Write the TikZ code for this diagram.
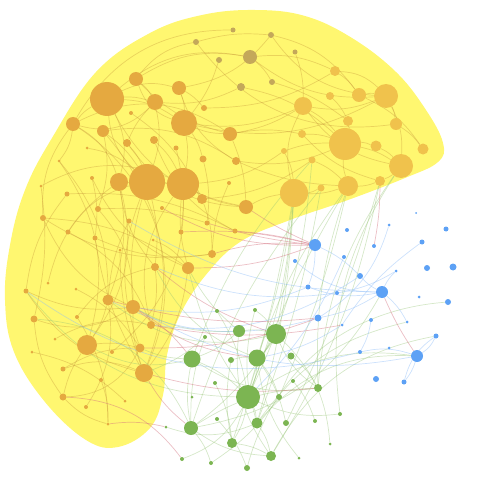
\documentclass[tikz,border=0pt]{standalone}
\usetikzlibrary{backgrounds}
\definecolor{blobyellow}{RGB}{255,247,112}
\definecolor{deeporange}{RGB}{229,169,64}
\definecolor{lightorange}{RGB}{240,194,76}
\definecolor{olivenode}{RGB}{196,168,90}
\definecolor{greennode}{RGB}{124,181,82}
\definecolor{bluenode}{RGB}{93,161,245}
\definecolor{pinkedge}{RGB}{212,112,127}
\tikzset{
  vertex/.style={circle, inner sep=0pt},
  onode/.style={vertex, fill=deeporange},
  ynode/.style={vertex, fill=lightorange},
  vnode/.style={vertex, fill=olivenode},
  gnode/.style={vertex, fill=greennode},
  bnode/.style={vertex, fill=bluenode},
  oedge/.style={draw=deeporange!85!black, opacity=0.35, line width=0.7pt},
  gedge/.style={draw=greennode!80, opacity=0.4, line width=0.7pt},
  bedge/.style={draw=bluenode!70, opacity=0.45, line width=0.7pt},
  pedge/.style={draw=pinkedge, opacity=0.45, line width=0.7pt}
}
\begin{document}
\begin{tikzpicture}[x=1pt, y=-1pt]
  \useasboundingbox (0,0) rectangle (500,500);
  % nodes: name/x/y/radius
  \foreach \n/\x/\y/\r in {1/107/99/17, 2/136/79/7, 3/179/88/7, 4/155/102/8,
      5/184/123/13, 6/73/124/7, 7/103/131/6, 8/131/113/2, 9/204/108/3,
      10/230/134/7, 11/127/143/4, 12/154/140/4, 13/176/148/2.5, 14/87/148/1.5,
      15/59/161/1.5, 16/203/159/3.5, 17/236/161/4, 18/119/182/9, 19/147/182/18,
      20/183/184/16, 21/229/183/2, 22/202/199/5, 23/246/207/7, 24/92/178/2,
      25/67/194/2.5, 26/41/186/1.5, 27/98/209/3, 28/162/208/2, 29/43/218/3,
      30/129/221/2.5, 31/207/223/2.5, 32/68/232/2.5, 33/95/238/2.5, 34/153/240/1.5,
      35/181/232/2.5, 36/235/231/2.5, 37/155/267/4, 38/188/268/6, 39/212/254/4,
      40/120/250/1.5, 41/26/291/2.5, 42/48/283/1.5, 43/76/289/1.5, 44/108/300/5.5,
      45/133/307/7, 46/34/319/3.5, 47/77/317/2, 48/151/325/4, 49/55/339/1.5,
      50/87/345/10, 51/112/352/2, 52/140/348/4.5, 53/32/352/1.5, 54/63/369/2.5,
      55/144/373/9, 56/101/380/2, 57/63/397/3.5, 58/86/407/2, 59/125/401/1.5,
      60/108/424/1.5}
    \node[onode, minimum size=2*\r] (o\n) at (\x,\y) {};
  \foreach \n/\x/\y/\r in {1/196/42/3, 2/233/30/2.5, 3/219/60/3, 4/250/57/7,
      5/241/87/4, 6/271/35/3, 7/295/52/2.5, 8/272/82/3}
    \node[vnode, minimum size=2*\r] (v\n) at (\x,\y) {};
  \foreach \n/\x/\y/\r in {1/335/71/5, 2/303/106/9, 3/330/96/4, 4/359/95/7,
      5/386/96/12, 6/348/121/5, 7/396/124/6, 8/302/134/4, 9/345/144/16,
      10/376/146/5.5, 11/423/149/5.5, 12/284/151/3, 13/312/160/3.5, 14/401/166/12,
      15/380/181/5, 16/348/186/10, 17/321/188/3.5, 18/294/193/14}
    \node[ynode, minimum size=2*\r] (y\n) at (\x,\y) {};
  \foreach \n/\x/\y/\r in {1/217/311/2, 2/239/331/6, 3/205/337/2, 4/192/359/8.5,
      5/231/360/3, 6/215/383/2, 7/192/397/1.5, 8/248/397/12, 9/217/419/2,
      10/191/428/7, 11/232/443/5, 12/166/427/1.5, 13/182/459/2, 14/211/463/2,
      15/247/468/3, 16/276/334/10, 17/257/358/8.5, 18/291/356/3.5, 19/255/310/2,
      20/293/381/2, 21/318/388/4, 22/279/397/3, 23/257/423/5.5, 24/286/423/3,
      25/315/421/2, 26/340/414/2, 27/330/444/1.5, 28/271/456/5, 29/299/458/1.5}
    \node[gnode, minimum size=2*\r] (g\n) at (\x,\y) {};
  \foreach \n/\x/\y/\r in {1/315/245/6, 2/347/230/2, 3/389/225/1.5, 4/416/213/1,
      5/446/229/2.5, 6/422/242/2.5, 7/374/246/2, 8/295/261/2, 9/344/257/2,
      10/360/276/3, 11/396/271/1.5, 12/427/268/3, 13/453/267/3.5, 14/308/287/2.5,
      15/337/293/2, 16/382/292/6, 17/419/297/1.5, 18/448/302/3, 19/318/318/3.5,
      20/371/320/2, 21/342/325/1.5, 22/407/322/1.5, 23/436/336/2.5, 24/360/352/2,
      25/389/348/1.5, 26/417/356/6, 27/376/379/3, 28/404/382/2.5}
    \node[bnode, minimum size=2*\r] (b\n) at (\x,\y) {};
  \begin{pgfonlayer}{background}
    % community hull
    \fill[blobyellow] plot[smooth cycle, tension=0.65] coordinates {
      (255,10) (305,16) (352,38) (396,72) (426,110) (443,143) (438,162)
      (405,178) (348,200) (290,220) (240,242) (205,276) (180,315) (167,355)
      (163,395) (150,428) (118,447) (86,440) (45,402) (14,352) (5,300)
      (10,245) (25,190) (52,138) (96,72) (150,33) (202,15)};
    % edges
    \foreach \a/\b/\c in {o1/o4/10, o1/o6/-10, o1/o18/20, o1/o5/15, o1/o19/-20,
        o2/o4/10, o2/v1/20, o2/o10/-15, o3/o5/10, o3/o9/10, o4/o19/15, o4/o11/-10,
        o5/o20/10, o5/o10/-10, o5/o16/10, o6/o18/20, o6/o15/15, o6/o29/-20,
        o7/o19/10, o7/o27/15, o10/o23/10, o10/y2/-10, o11/o19/10, o12/o20/10,
        o18/o19/0, o19/o20/0, o18/o44/15, o18/o37/-15, o19/o37/10, o19/o45/-10,
        o20/o22/10, o20/o38/-10, o20/o23/-10, o22/o39/10, o24/o33/10, o25/o41/-15,
        o26/o46/10, o27/o45/20, o30/o44/-10, o37/o48/10, o38/o55/15, o44/o50/10,
        o45/o55/-10, o46/o57/-15, o50/o52/10, o50/o57/-10, o41/o55/-20, o15/o50/25,
        o32/o48/20, o29/o38/15, o33/o55/-10, o47/o60/15, o57/o60/-15, o52/o54/-15,
        o44/o58/20, o6/o10/30, o1/v4/25, v1/v6/10, v4/v8/10, v3/o5/10, o9/y1/-15,
        o17/y9/-15, o5/y5/-20, o6/o55/40, o1/o23/-25, o14/o19/15, o7/o17/20,
        o24/o38/-20, o25/o36/15, o27/o31/10, o29/o39/-20, o43/o52/15, o33/o39/-15,
        o41/o45/-15, o53/o59/15, o56/o60/10, o6/v2/30, o2/v4/20, o4/v5/-15,
        o7/o55/30, o15/o44/20, o18/o50/25, o19/o52/-20, o20/o48/-25, o26/o20/25,
        o29/o45/-20, o32/o19/20, o46/o45/-25, o57/o52/-30, o54/o55/20, o49/o48/20,
        o11/o23/-25, o12/o36/-20, o3/o17/-20, o8/o22/15, o13/o35/10, o16/o31/10,
        o21/o39/-10, o34/o38/15, o40/o55/-10, o42/o18/20, o47/o37/20, o51/o20/-25,
        o1/o3/20, o2/o5/-25, o6/o4/-30, y1/y4/10, y2/y9/10, y2/y5/-15,
        y4/y5/10, y5/y7/10, y5/y14/15, y6/y9/10, y7/y11/10, y9/y14/10, y9/y16/-10,
        y9/y10/10, y12/y18/10, y13/y16/10, y15/y16/10, y14/y15/10, y16/y18/10,
        y17/y18/10, y2/y18/-20, y3/y6/10, y8/y9/10, y1/y5/20, v4/y1/15, v6/y4/20,
        v7/y2/10, v5/y9/15, y10/y14/10, o23/y18/10, o10/y8/10, o17/y16/-10,
        v8/y6/10, y4/y11/15, v4/y5/-20, v6/y5/-25, y2/y14/-20, y12/y9/10,
        o20/y12/-15, o5/y2/-15, o3/v6/-20, v1/y7/-30, y8/y15/-15, o22/y13/-15}
      \draw[oedge] (\a) to[bend left=\c] (\b);
    \foreach \a/\b/\c in {y18/g17/5, y18/g16/3, y16/g8/-5, y16/g22/5, y15/g28/10,
        y14/g26/-20, y13/g8/10, y17/g23/5, y16/g21/-10, g2/g4/10, g2/g16/10,
        g4/g8/10, g4/g10/-10, g8/g16/10, g8/g17/-10, g8/g11/10, g8/g23/10,
        g10/g14/10, g11/g28/10, g16/g17/10, g16/g21/-15, g17/g22/10, g17/g24/10,
        g19/g16/10, g23/g28/10, g1/g8/10, g3/g10/-10, g5/g17/10, g6/g11/10,
        g9/g15/10, g18/g21/10, g20/g25/10, g12/g23/-20, g13/g8/-20, g29/g17/15,
        g27/g16/-20, g26/g8/15, g10/g28/-15, g4/g21/-20, b23/g28/-25, b26/g23/-25,
        b18/g15/-35, b16/g10/25, g2/o45/15, g4/o52/10, g8/o38/10, g3/o55/10,
        y18/g8/8, y18/g23/6, y16/g17/-8, y17/g10/-10, y14/g21/-15, y15/g24/5,
        y13/g4/-10, y18/g11/4, g2/o38/10, g4/o50/20, g16/o44/25, g17/o37/20,
        g10/o46/-30, g8/o41/25, g21/g10/-15, g16/g10/10, g22/g14/10, g2/g28/-20,
        b26/g8/-20, b22/g23/-20, g19/g23/-15, g5/g11/-10}
      \draw[gedge] (\a) to[bend left=\c] (\b);
    \foreach \a/\b/\c in {b1/b10/10, b16/b22/10, b26/b23/-15, b26/b28/10,
        b26/b24/-15, b23/b28/-20, b16/b10/10, b19/b16/-10, b14/b16/-15,
        b3/b19/20, b11/b15/10, b8/b16/-20, b14/o45/15, b19/o44/20, b15/o37/15,
        b10/o48/20, b16/b11/10, b6/b21/-10, b9/g8/10, b20/b24/10, b1/b14/10,
        b26/o45/20, b24/o41/25, b16/o30/15, b21/g17/10}
      \draw[bedge] (\a) to[bend left=\c] (\b);
    \foreach \a/\b/\c in {o36/b1/5, o31/b1/-5, o39/b1/10, o23/b1/-5, o35/b1/8,
        o38/b1/-10, o28/b1/-15, y15/b7/5, b16/b26/-5, o55/g21/-10, o52/b19/-10,
        o48/b21/-10, o57/g13/25, o55/g10/-10, o45/g4/10, o44/b19/-10, o60/g12/10,
        o37/g16/-10, o45/g17/-15}
      \draw[pedge] (\a) to[bend left=\c] (\b);
  \end{pgfonlayer}
\end{tikzpicture}
\end{document}
